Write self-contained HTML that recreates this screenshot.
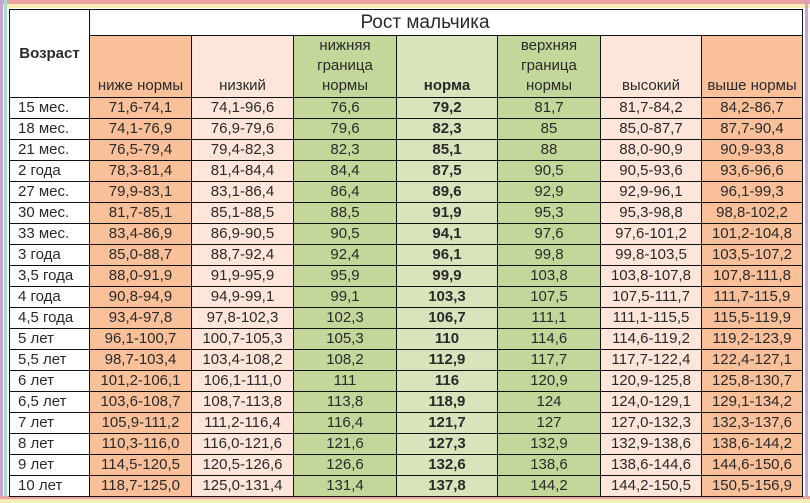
<!DOCTYPE html><html><head><meta charset="utf-8"><style>
body{margin:0;width:810px;height:503px;background:#fff;position:relative;overflow:hidden;font-family:"Liberation Sans",Arial,sans-serif;}
.deco{position:absolute;}
table{position:absolute;left:9px;top:9px;border-collapse:collapse;table-layout:fixed;}
td{border:1px solid #111;padding:0;text-align:center;font-size:15px;color:#2a2a2a;height:20px;line-height:18px;white-space:nowrap;}
td.a{text-align:left;padding-left:8px;}
.o{background:#f9c09a}.p{background:#fde6d9}.g{background:#c4d79b}.l{background:#d8e4bc}
b{font-weight:bold}
.h td{height:60px;vertical-align:bottom;line-height:20px;padding-bottom:1px;}
</style></head><body>
<div class="deco" style="left:0;top:0;width:810px;height:4px;background:#e9a2a2"></div>
<div class="deco" style="left:0;top:4px;width:810px;height:4px;background:#f7ecb5"></div>
<div class="deco" style="left:0;top:0;width:3px;height:503px;background:#c9a3d8"></div>
<div class="deco" style="left:4px;top:0;width:3px;height:503px;background:#a8dcc8"></div>
<div class="deco" style="left:805px;top:0;width:3px;height:503px;background:#c9a3d8"></div>
<div class="deco" style="left:0;top:496px;width:810px;height:3px;background:#e9a2a2"></div>
<div class="deco" style="left:0;top:499px;width:810px;height:4px;background:#f7ecb5"></div>
<table>
<colgroup><col style="width:80px"><col style="width:102px"><col style="width:102px"><col style="width:103px"><col style="width:101px"><col style="width:103px"><col style="width:101px"><col style="width:101px"></colgroup>
<tr><td rowspan="2" style="font-weight:bold;font-size:15px;vertical-align:middle;height:87px">Возраст</td><td colspan="7" style="font-size:19px;height:25px;text-align:center;padding-right:42px">Рост мальчика</td></tr>
<tr class="h"><td class="o">ниже нормы</td><td class="p">низкий</td><td class="g">нижняя<br>граница<br>нормы</td><td class="l"><b>норма</b></td><td class="g">верхняя<br>граница<br>нормы</td><td class="p">высокий</td><td class="o">выше нормы</td></tr>
<tr><td class="a">15 мес.</td><td class="o">71,6-74,1</td><td class="p">74,1-96,6</td><td class="g">76,6</td><td class="l"><b>79,2</b></td><td class="g">81,7</td><td class="p">81,7-84,2</td><td class="o">84,2-86,7</td></tr>
<tr><td class="a">18 мес.</td><td class="o">74,1-76,9</td><td class="p">76,9-79,6</td><td class="g">79,6</td><td class="l"><b>82,3</b></td><td class="g">85</td><td class="p">85,0-87,7</td><td class="o">87,7-90,4</td></tr>
<tr><td class="a">21 мес.</td><td class="o">76,5-79,4</td><td class="p">79,4-82,3</td><td class="g">82,3</td><td class="l"><b>85,1</b></td><td class="g">88</td><td class="p">88,0-90,9</td><td class="o">90,9-93,8</td></tr>
<tr><td class="a">2 года</td><td class="o">78,3-81,4</td><td class="p">81,4-84,4</td><td class="g">84,4</td><td class="l"><b>87,5</b></td><td class="g">90,5</td><td class="p">90,5-93,6</td><td class="o">93,6-96,6</td></tr>
<tr><td class="a">27 мес.</td><td class="o">79,9-83,1</td><td class="p">83,1-86,4</td><td class="g">86,4</td><td class="l"><b>89,6</b></td><td class="g">92,9</td><td class="p">92,9-96,1</td><td class="o">96,1-99,3</td></tr>
<tr><td class="a">30 мес.</td><td class="o">81,7-85,1</td><td class="p">85,1-88,5</td><td class="g">88,5</td><td class="l"><b>91,9</b></td><td class="g">95,3</td><td class="p">95,3-98,8</td><td class="o">98,8-102,2</td></tr>
<tr><td class="a">33 мес.</td><td class="o">83,4-86,9</td><td class="p">86,9-90,5</td><td class="g">90,5</td><td class="l"><b>94,1</b></td><td class="g">97,6</td><td class="p">97,6-101,2</td><td class="o">101,2-104,8</td></tr>
<tr><td class="a">3 года</td><td class="o">85,0-88,7</td><td class="p">88,7-92,4</td><td class="g">92,4</td><td class="l"><b>96,1</b></td><td class="g">99,8</td><td class="p">99,8-103,5</td><td class="o">103,5-107,2</td></tr>
<tr><td class="a">3,5 года</td><td class="o">88,0-91,9</td><td class="p">91,9-95,9</td><td class="g">95,9</td><td class="l"><b>99,9</b></td><td class="g">103,8</td><td class="p">103,8-107,8</td><td class="o">107,8-111,8</td></tr>
<tr><td class="a">4 года</td><td class="o">90,8-94,9</td><td class="p">94,9-99,1</td><td class="g">99,1</td><td class="l"><b>103,3</b></td><td class="g">107,5</td><td class="p">107,5-111,7</td><td class="o">111,7-115,9</td></tr>
<tr><td class="a">4,5 года</td><td class="o">93,4-97,8</td><td class="p">97,8-102,3</td><td class="g">102,3</td><td class="l"><b>106,7</b></td><td class="g">111,1</td><td class="p">111,1-115,5</td><td class="o">115,5-119,9</td></tr>
<tr><td class="a">5 лет</td><td class="o">96,1-100,7</td><td class="p">100,7-105,3</td><td class="g">105,3</td><td class="l"><b>110</b></td><td class="g">114,6</td><td class="p">114,6-119,2</td><td class="o">119,2-123,9</td></tr>
<tr><td class="a">5,5 лет</td><td class="o">98,7-103,4</td><td class="p">103,4-108,2</td><td class="g">108,2</td><td class="l"><b>112,9</b></td><td class="g">117,7</td><td class="p">117,7-122,4</td><td class="o">122,4-127,1</td></tr>
<tr><td class="a">6 лет</td><td class="o">101,2-106,1</td><td class="p">106,1-111,0</td><td class="g">111</td><td class="l"><b>116</b></td><td class="g">120,9</td><td class="p">120,9-125,8</td><td class="o">125,8-130,7</td></tr>
<tr><td class="a">6,5 лет</td><td class="o">103,6-108,7</td><td class="p">108,7-113,8</td><td class="g">113,8</td><td class="l"><b>118,9</b></td><td class="g">124</td><td class="p">124,0-129,1</td><td class="o">129,1-134,2</td></tr>
<tr><td class="a">7 лет</td><td class="o">105,9-111,2</td><td class="p">111,2-116,4</td><td class="g">116,4</td><td class="l"><b>121,7</b></td><td class="g">127</td><td class="p">127,0-132,3</td><td class="o">132,3-137,6</td></tr>
<tr><td class="a">8 лет</td><td class="o">110,3-116,0</td><td class="p">116,0-121,6</td><td class="g">121,6</td><td class="l"><b>127,3</b></td><td class="g">132,9</td><td class="p">132,9-138,6</td><td class="o">138,6-144,2</td></tr>
<tr><td class="a">9 лет</td><td class="o">114,5-120,5</td><td class="p">120,5-126,6</td><td class="g">126,6</td><td class="l"><b>132,6</b></td><td class="g">138,6</td><td class="p">138,6-144,6</td><td class="o">144,6-150,6</td></tr>
<tr><td class="a">10 лет</td><td class="o">118,7-125,0</td><td class="p">125,0-131,4</td><td class="g">131,4</td><td class="l"><b>137,8</b></td><td class="g">144,2</td><td class="p">144,2-150,5</td><td class="o">150,5-156,9</td></tr>
</table>
</body></html>
